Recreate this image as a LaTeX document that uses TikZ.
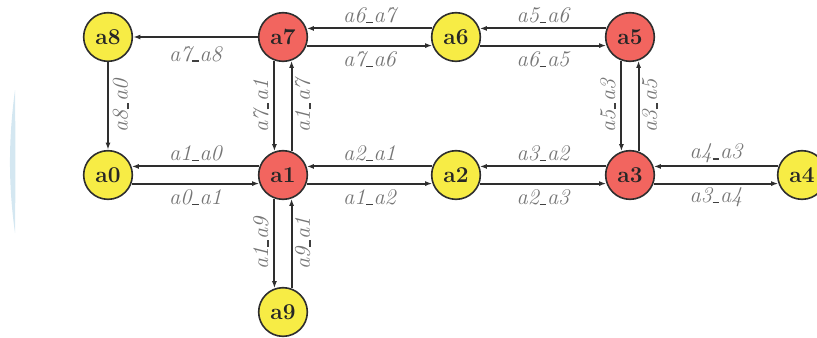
\documentclass[tikz,border=0pt]{standalone}
\usetikzlibrary{arrows.meta}
\definecolor{nred}{HTML}{F2655F}
\definecolor{nyel}{HTML}{F7EC45}
\definecolor{lgray}{HTML}{767676}
\definecolor{edgec}{HTML}{2E2E2E}
\definecolor{pale}{HTML}{D4E7F1}
\newcommand{\usc}{\kern0.03em{\color{black!75}\rule[-0.6pt]{0.3em}{1.1pt}}\kern0.03em}
\begin{document}
\begin{tikzpicture}[x=0.75pt,y=-0.75pt,
  st/.style={circle, draw=edgec, line width=1.2pt, minimum size=36.5pt, inner sep=0pt,
    font=\fontsize{17}{20}\selectfont\bfseries, text=black!85},
  rnode/.style={st, fill=nred},
  ynode/.style={st, fill=nyel},
  e/.style={-{Latex[length=5.5pt,width=3.8pt]}, line width=1.45pt, draw=edgec},
  lbl/.style={font=\fontsize{16.8}{19}\selectfont\itshape, text=lgray, inner sep=0pt}
]
\useasboundingbox (0,0) rectangle (817,337);
\clip (0,0) rectangle (817,337);
\fill[pale] (15,90) .. controls (8.3,140) and (8.3,185) .. (15,233)
  .. controls (15.5,185) and (15.5,140) .. (15,90) -- cycle;

\node[ynode] (a8) at (108,37) {a8};
\node[rnode] (a7) at (283,37) {a7};
\node[ynode] (a6) at (456,37) {a6};
\node[rnode] (a5) at (630,37) {a5};
\node[ynode] (a0) at (108,175) {a0};
\node[rnode] (a1) at (283,175) {a1};
\node[ynode] (a2) at (456,175) {a2};
\node[rnode] (a3) at (630,175) {a3};
\node[ynode] (a4) at (802,175) {a4};
\node[ynode] (a9) at (283,312) {a9};

% top row
\draw[e] (a7) -- (a8) node[lbl, midway, yshift=-12.75pt] {a7\usc a8};
\draw[e] (a6.160) -- (a7.20) node[lbl, midway, yshift=9.6pt] {a6\usc a7};
\draw[e] (a7.-20) -- (a6.200) node[lbl, midway, yshift=-10.2pt] {a7\usc a6};
\draw[e] (a5.160) -- (a6.20) node[lbl, midway, yshift=9.6pt] {a5\usc a6};
\draw[e] (a6.-20) -- (a5.200) node[lbl, midway, yshift=-10.2pt] {a6\usc a5};

% middle row
\draw[e] (a1.160) -- (a0.20) node[lbl, midway, yshift=9.6pt] {a1\usc a0};
\draw[e] (a0.-20) -- (a1.200) node[lbl, midway, yshift=-10.2pt] {a0\usc a1};
\draw[e] (a2.160) -- (a1.20) node[lbl, midway, yshift=9.6pt] {a2\usc a1};
\draw[e] (a1.-20) -- (a2.200) node[lbl, midway, yshift=-10.2pt] {a1\usc a2};
\draw[e] (a3.160) -- (a2.20) node[lbl, midway, yshift=9.6pt] {a3\usc a2};
\draw[e] (a2.-20) -- (a3.200) node[lbl, midway, yshift=-10.2pt] {a2\usc a3};
\draw[e] (a4.160) -- (a3.20) node[lbl, midway, yshift=9.6pt] {a4\usc a3};
\draw[e] (a3.-20) -- (a4.200) node[lbl, midway, yshift=-10.2pt] {a3\usc a4};

% vertical
\draw[e] (a8) -- (a0) node[lbl, midway, xshift=9.5pt, rotate=90] {a8\usc a0};
\draw[e] (a7.250) -- (a1.110) node[lbl, midway, xshift=-10pt, rotate=90] {a7\usc a1};
\draw[e] (a1.70) -- (a7.290) node[lbl, midway, xshift=8.5pt, rotate=90] {a1\usc a7};
\draw[e] (a5.250) -- (a3.110) node[lbl, midway, xshift=-10pt, rotate=90] {a5\usc a3};
\draw[e] (a3.70) -- (a5.290) node[lbl, midway, xshift=8.5pt, rotate=90] {a3\usc a5};
\draw[e] (a1.250) -- (a9.110) node[lbl, midway, xshift=-10pt, rotate=90] {a1\usc a9};
\draw[e] (a9.70) -- (a1.290) node[lbl, midway, xshift=8.5pt, rotate=90] {a9\usc a1};
\end{tikzpicture}
\end{document}
